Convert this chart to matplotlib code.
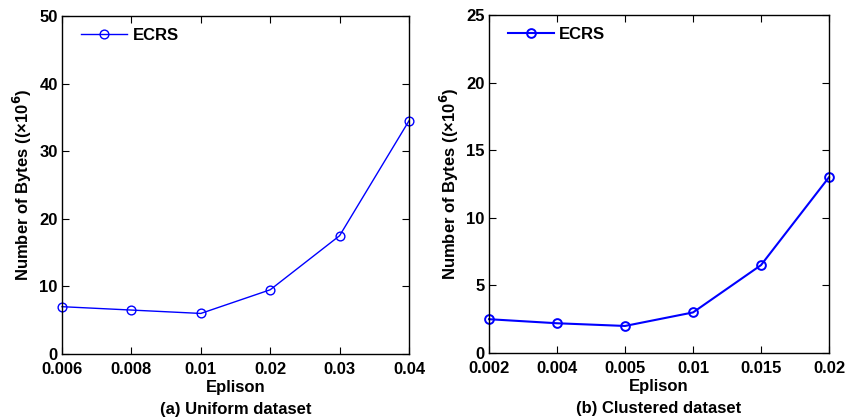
import numpy as np
import matplotlib.pyplot as plt

plt.rcParams['font.family'] = ['Liberation Sans', 'DejaVu Sans']
plt.rcParams['font.weight'] = 'bold'

# (a) uniform dataset
eps_a = ['0.006', '0.008', '0.01', '0.02', '0.03', '0.04']
bytes_a = [7.0, 6.5, 6.0, 9.5, 17.5, 34.5]

# (b) clustered dataset
eps_b = ['0.002', '0.004', '0.005', '0.01', '0.015', '0.02']
bytes_b = [2.5, 2.2, 2.0, 3.0, 6.5, 13.0]

fig = plt.figure(figsize=(8.46, 4.2), dpi=100)
ax1 = fig.add_axes([62/846, 1-354/420, 347/846, 338/420])
ax2 = fig.add_axes([489/846, 1-353/420, 340/846, 338/420])

def panel(ax, labels, vals, ymax, ystep, lw, caption):
    x = np.arange(len(labels))
    ax.plot(x, vals, color='#0000ff', marker='o', markersize=6.3, mfc='none',
            mec='#0000ff', mew=1.0 if lw < 1.2 else 1.4, lw=lw, label='ECRS', clip_on=False)
    ax.set_xlim(0, len(labels)-1)
    ax.set_ylim(0, ymax)
    ax.set_xticks(x)
    ax.set_xticklabels(labels)
    ax.set_yticks(np.arange(0, ymax+0.1, ystep))
    ax.tick_params(direction='in', top=True, right=True, labelsize=12, length=5, width=0.8)
    ax.tick_params(axis='x', pad=6)
    ax.tick_params(axis='y', pad=3)
    for s in ax.spines.values():
        s.set_linewidth(1.0)
    ax.set_xlabel('Eplison', fontsize=12, fontweight='bold', labelpad=2)
    ax.set_ylabel('Number of Bytes ((\u00d710$^{6}$)', fontsize=12, fontweight='bold', labelpad=4)
    ax.legend(loc='upper left', frameon=False, fontsize=12, handlelength=2.8,
              handletextpad=0.3, borderaxespad=0.0, bbox_to_anchor=(0.035, 0.985))
    ax.text(0.5, -0.163, caption, transform=ax.transAxes, ha='center', va='center',
            fontsize=12, fontweight='bold')

panel(ax1, eps_a, bytes_a, 50, 10, 1.0, '(a) Uniform dataset')
panel(ax2, eps_b, bytes_b, 25, 5, 1.5, '(b) Clustered dataset')

fig.savefig('out.png', dpi=100)
